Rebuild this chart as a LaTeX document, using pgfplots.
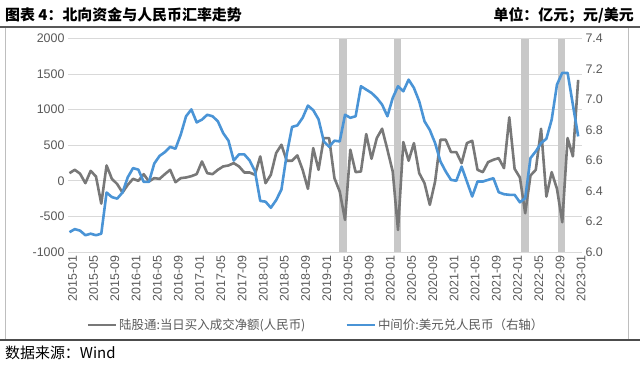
\documentclass[border=0pt]{standalone}
\usepackage{pgfplots}
\usepackage{pgfplotstable}
\pgfplotsset{compat=1.18}
\usepackage{fontspec}
\setmainfont{Liberation Sans}
\newfontfamily\cjk{Noto Sans CJK SC}
\definecolor{flowgray}{RGB}{120,120,120}
\definecolor{fxblue}{RGB}{74,148,214}
\definecolor{txtgray}{RGB}{89,89,89}
\definecolor{gridgray}{RGB}{217,217,217}
\definecolor{bandgray}{RGB}{200,200,200}
\definecolor{framegray}{RGB}{190,190,190}

\pgfplotstableread{
m v
0 108
1 155
2 100
3 -33
4 140
5 61
6 -320
7 216
8 28
9 -45
10 -165
11 -56
12 28
13 0
14 94
15 -9
16 38
17 28
18 94
19 155
20 -19
21 38
22 47
23 66
24 94
25 272
26 108
27 94
28 155
29 202
30 216
31 249
32 202
33 117
34 117
35 85
36 343
37 -33
38 85
39 390
40 507
41 282
42 282
43 357
44 155
45 -113
46 460
47 155
48 600
49 600
50 38
51 -150
52 -549
53 437
54 122
55 131
56 657
57 310
58 601
59 732
60 437
61 131
62 -690
63 545
64 282
65 530
66 108
67 -33
68 -338
69 -9
70 577
71 577
72 404
73 404
74 249
75 530
76 563
77 155
78 122
79 263
80 296
81 319
82 178
83 892
84 169
85 47
86 -455
87 75
88 155
89 732
90 -221
91 122
92 -113
93 -582
94 601
95 343
96 1418
}\flowtable

\pgfplotstableread{
m r
0 6.13
1 6.15
2 6.14
3 6.11
4 6.12
5 6.11
6 6.12
7 6.39
8 6.36
9 6.35
10 6.39
11 6.49
12 6.55
13 6.54
14 6.46
15 6.46
16 6.58
17 6.63
18 6.655
19 6.69
20 6.677
21 6.77
22 6.89
23 6.935
24 6.85
25 6.868
26 6.90
27 6.89
28 6.857
29 6.78
30 6.73
31 6.60
32 6.64
33 6.64
34 6.60
35 6.53
36 6.335
37 6.33
38 6.29
39 6.34
40 6.41
41 6.64
42 6.82
43 6.83
44 6.88
45 6.96
46 6.93
47 6.87
48 6.725
49 6.69
50 6.73
51 6.725
52 6.90
53 6.88
54 6.89
55 7.087
56 7.065
57 7.043
58 7.01
59 6.966
60 6.89
61 7.01
62 7.087
63 7.054
64 7.13
65 7.076
66 6.988
67 6.857
68 6.80
69 6.714
70 6.594
71 6.528
72 6.473
73 6.467
74 6.56
75 6.462
76 6.364
77 6.462
78 6.462
79 6.473
80 6.484
81 6.392
82 6.379
83 6.375
84 6.375
85 6.326
86 6.353
87 6.616
88 6.66
89 6.714
90 6.743
91 6.868
92 7.098
93 7.175
94 7.175
95 6.966
96 6.758
}\fxtable

\begin{document}
\begin{tikzpicture}
\useasboundingbox (0,0) rectangle (640bp,366bp);
% frame
\draw[framegray, line width=0.8bp] (5bp,339bp) -- (5bp,26bp);
\draw[framegray, line width=0.8bp] (628bp,339bp) -- (628bp,26bp);
\draw[black!65, line width=1.2bp] (0bp,339bp) -- (640bp,339bp);
\draw[black!70, line width=1.2bp] (0bp,26bp) -- (640bp,26bp);
% titles
\node[anchor=base west, inner sep=0] at (5bp,345bp) {\cjk\bfseries\fontsize{15}{15}\selectfont 图表 4：北向资金与人民币汇率走势};
\node[anchor=base east, inner sep=0] at (634bp,345bp) {\cjk\bfseries\fontsize{15}{15}\selectfont 单位：亿元；元/美元};
\node[anchor=base west, inner sep=0] at (5bp,8bp) {\cjk\fontsize{15}{15}\selectfont 数据来源：Wind};

\begin{axis}[
  at={(68bp,114bp)}, anchor=south west,
  width=514bp, height=213.5bp, scale only axis,
  xmin=-0.28, xmax=96.72, ymin=-1000, ymax=2000,
  ytick={-1000,-500,0,500,1000,1500,2000},
  ymajorgrids, grid style={gridgray, line width=0.9bp},
  axis line style={draw=none},
  major tick length=0pt,
  xtick={0,4,...,96},
  xticklabels={2015-01,2015-05,2015-09,2016-01,2016-05,2016-09,2017-01,2017-05,2017-09,2018-01,2018-05,2018-09,2019-01,2019-05,2019-09,2020-01,2020-05,2020-09,2021-01,2021-05,2021-09,2022-01,2022-05,2022-09,2023-01},
  xticklabel style={rotate=90, anchor=east, font=\fontsize{12.5}{12.5}\selectfont, text=txtgray, xshift=0bp, yshift=-3bp},
  yticklabel style={font=\fontsize{12.5}{12.5}\selectfont, text=txtgray},
  /pgf/number format/assume math mode=true,
  /pgf/number format/1000 sep={},
  scaled ticks=false,
  legend style={at={(axis description cs:0.4825,-0.342)}, anchor=center, draw=none, fill=none,
    font=\cjk\fontsize{12.5}{13}\selectfont, text=txtgray, legend columns=2,
    /tikz/every even column/.append style={column sep=38bp}},
  legend image code/.code={\draw[#1] (0bp,0bp) -- (28bp,0bp);},
]
\fill[bandgray] (axis cs:50.85,-1000) rectangle (axis cs:52.4,2000);
\fill[bandgray] (axis cs:61.2,-1000) rectangle (axis cs:62.6,2000);
\fill[bandgray] (axis cs:85.2,-1000) rectangle (axis cs:86.7,2000);
\fill[bandgray] (axis cs:92.1,-1000) rectangle (axis cs:93.6,2000);
\addplot[flowgray, line width=2.6bp, line join=round] table[x=m,y=v]{\flowtable};
\addlegendentry{陆股通:当日买入成交净额(人民币)}
\addlegendimage{fxblue, line width=2.6bp}
\addlegendentry{中间价:美元兑人民币（右轴）}
\end{axis}

\begin{axis}[
  at={(68bp,114bp)}, anchor=south west,
  width=514bp, height=213.5bp, scale only axis,
  xmin=-0.28, xmax=96.72, ymin=6.0, ymax=7.4,
  ytick={6.0,6.2,6.4,6.6,6.8,7.0,7.2,7.4},
  axis y line*=right, hide x axis,
  axis line style={draw=none},
  major tick length=0pt,
  yticklabel style={font=\fontsize{12.5}{12.5}\selectfont, text=txtgray,
    /pgf/number format/.cd, fixed, fixed zerofill, precision=1, assume math mode=true},
]
\addplot[fxblue, line width=2.6bp, line join=round] table[x=m,y=r]{\fxtable};
\end{axis}
\end{tikzpicture}
\end{document}
